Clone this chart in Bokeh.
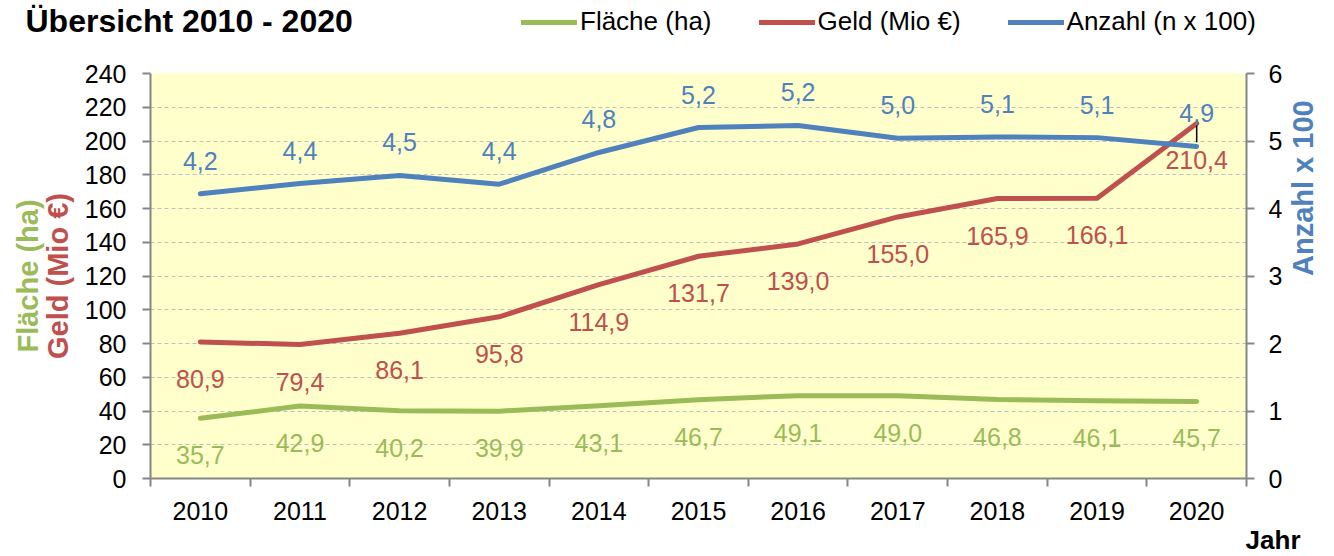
import math
from bokeh.plotting import figure
from bokeh.layouts import column
from bokeh.models import (Range1d, LinearAxis, FixedTicker, Grid, Legend, LegendItem, Label, Title)
from bokeh.core.properties import value
from bokeh.embed import file_html
from bokeh.resources import INLINE

years = ["2010", "2011", "2012", "2013", "2014", "2015", "2016", "2017", "2018", "2019", "2020"]
flaeche = [35.7, 42.9, 40.2, 39.9, 43.1, 46.7, 49.1, 49.0, 46.8, 46.1, 45.7]
geld = [80.9, 79.4, 86.1, 95.8, 114.9, 131.7, 139.0, 155.0, 165.9, 166.1, 210.4]
anzahl = [4.22, 4.37, 4.49, 4.36, 4.83, 5.20, 5.23, 5.04, 5.06, 5.05, 4.92]
flaeche_labels = ["35,7", "42,9", "40,2", "39,9", "43,1", "46,7", "49,1", "49,0", "46,8", "46,1", "45,7"]
geld_labels = ["80,9", "79,4", "86,1", "95,8", "114,9", "131,7", "139,0", "155,0", "165,9", "166,1", "210,4"]
anzahl_labels = ["4,2", "4,4", "4,5", "4,4", "4,8", "5,2", "5,2", "5,0", "5,1", "5,1", "4,9"]
series_names = ["Fläche (ha)", "Geld (Mio €)", "Anzahl (n x 100)"]
left_ticks = [0, 20, 40, 60, 80, 100, 120, 140, 160, 180, 200, 220, 240]
right_ticks = [0, 1, 2, 3, 4, 5, 6]

GREEN = "#9BBB59"
RED = "#C0504D"
BLUE = "#4F81BD"
AXIS = "#868686"
FONT = "Liberation Sans"
W = 1334
HEAD_H = 40
NAN = float("nan")

n = len(years)
xpos = [i + 0.5 for i in range(n)]          # category centres
bounds = list(range(n + 1))                   # category boundaries

# ---------------- header: title + legend ----------------
h = figure(width=W, height=HEAD_H, x_range=Range1d(0, W), y_range=Range1d(0, HEAD_H),
           x_axis_location=None, y_axis_location=None, output_backend="svg",
           toolbar_location=None, min_border=0)
h.frame_align = False
h.outline_line_color = None
h.xgrid.visible = False
h.ygrid.visible = False
h.add_layout(Label(x=25, y=HEAD_H - 20, text="Übersicht 2010 - 2020", text_font=FONT,
                   text_font_size="32px", text_font_style="bold", text_baseline="middle",
                   text_align="left", text_color="black"))
hr = [h.line(x=[NAN], y=[NAN], line_color=c, line_width=5, line_cap="round")
      for c in (GREEN, RED, BLUE)]
legend = Legend(items=[LegendItem(label=lab, renderers=[r]) for lab, r in zip(series_names, hr)],
                orientation="horizontal", location=(521, 3), padding=0, margin=0,
                spacing=47, glyph_width=56, glyph_height=24, label_standoff=3,
                border_line_color=None, background_fill_alpha=0,
                label_text_font=FONT, label_text_font_size="26px", label_text_color="black")
h.add_layout(legend)

# ---------------- main chart ----------------
p = figure(frame_width=1096, frame_height=405, x_range=Range1d(0, n),
           y_range=Range1d(0, 240), x_axis_location=None, y_axis_location=None,
           output_backend="svg", toolbar_location=None,
           min_border_left=150, min_border_right=W - 1246, min_border_top=73 - HEAD_H,
           min_border_bottom=10)
p.frame_align = False
p.extra_y_ranges = {"anz": Range1d(0, 6)}
p.background_fill_color = "#FFFFCC"
p.border_fill_color = "white"
p.outline_line_color = None
p.xgrid.visible = False
p.ygrid.visible = False

grid = Grid(dimension=1, ticker=FixedTicker(ticks=left_ticks), grid_line_color="#BFBFBF",
            grid_line_dash="4 3", grid_line_width=1)
p.add_layout(grid)

def style_axis(ax, color):
    ax.axis_line_color = AXIS
    ax.axis_line_width = 2
    ax.major_tick_line_color = AXIS
    ax.major_tick_line_width = 2
    ax.major_tick_in = 0
    ax.major_tick_out = 8
    ax.minor_tick_line_color = None
    ax.major_label_text_font = FONT
    ax.major_label_text_font_size = "25px"
    ax.major_label_text_color = "black"
    ax.axis_label_text_font = FONT
    ax.axis_label_text_font_size = "29px"
    ax.axis_label_text_font_style = "bold"
    ax.axis_label_text_color = color

# left axes
la = LinearAxis(ticker=FixedTicker(ticks=left_ticks), axis_label="Geld (Mio €)")
style_axis(la, RED)
la.major_label_standoff = 16
la.axis_label_standoff = 8
p.add_layout(la, "left")
la2 = LinearAxis(ticker=FixedTicker(ticks=[]), axis_label="Fläche (ha)")
style_axis(la2, GREEN)
la2.axis_line_color = None
la2.axis_label_standoff = -5
p.add_layout(la2, "left")

# right axis
ra = LinearAxis(y_range_name="anz", ticker=FixedTicker(ticks=right_ticks), axis_label="Anzahl x 100")
style_axis(ra, BLUE)
ra.major_label_standoff = 14
ra.axis_label_standoff = 18
ra.axis_label_orientation = math.pi / 2
p.add_layout(ra, "right")

# bottom: tick marks at category boundaries, labels at category centres
ba = LinearAxis(ticker=FixedTicker(ticks=bounds), major_label_overrides={b: "" for b in bounds})
style_axis(ba, "black")
ba.major_label_standoff = 0
p.add_layout(ba, "below")
ca = LinearAxis(ticker=FixedTicker(ticks=xpos),
                major_label_overrides={x: y for x, y in zip(xpos, years)})
style_axis(ca, "black")
ca.axis_line_color = None
ca.major_tick_line_color = None
ca.major_tick_out = 0
ca.major_label_standoff = 15
p.add_layout(ca, "below")
p.add_layout(Title(text="Jahr", align="right", offset=-54, standoff=0, text_font=FONT,
                   text_font_size="26px", text_font_style="bold", text_color="black"), "below")

# lines
r1 = p.line(xpos, flaeche, line_color=GREEN, line_width=5, line_cap="round", line_join="round")
r2 = p.line(xpos, geld, line_color=RED, line_width=5, line_cap="round", line_join="round")
r3 = p.line(xpos, anzahl, line_color=BLUE, line_width=5, line_cap="round", line_join="round",
            y_range_name="anz")

# data labels
common = dict(text_font=value(FONT), text_font_size="25px", text_align="center", text_baseline="middle")
p.text(x=xpos, y=flaeche, text=flaeche_labels, text_color=GREEN, y_offset=37, **common)
p.text(x=xpos, y=geld, text=geld_labels, text_color=RED, y_offset=37, **common)
p.text(x=xpos, y=anzahl, text=anzahl_labels, text_color=BLUE, y_offset=-33, y_range_name="anz", **common)
# leader line for last Anzahl label
p.segment(x0=[xpos[-1]], y0=[anzahl[-1] + 0.06], x1=[xpos[-1]], y1=[anzahl[-1] + 0.31],
          line_color="black", line_width=1.5, y_range_name="anz")

layout = column(h, p, spacing=0)
open("out.html", "w").write(file_html(layout, INLINE))
